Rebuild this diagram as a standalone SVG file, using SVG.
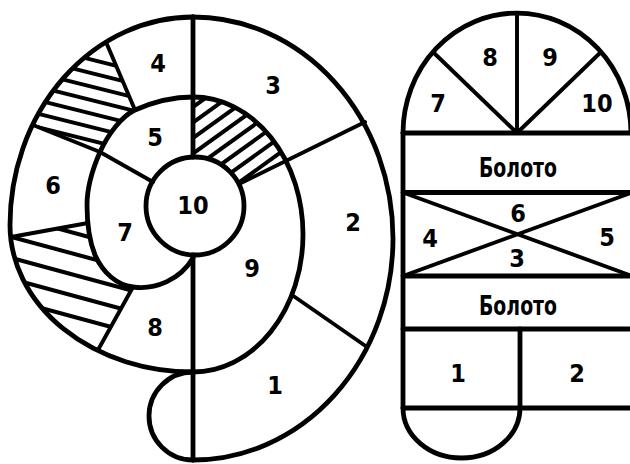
<svg xmlns="http://www.w3.org/2000/svg" width="630" height="464" viewBox="0 0 630 464">
<style>
.o{fill:none;stroke:#000;stroke-width:4.8;stroke-linejoin:round;stroke-linecap:round}
.i{fill:none;stroke:#000;stroke-width:3.9;stroke-linecap:round}
.h{stroke:#000;stroke-width:4}
.t{font-family:"Liberation Sans Narrow","DejaVu Sans Condensed","Liberation Sans",sans-serif;font-weight:bold;font-size:25px;text-anchor:middle;fill:#000}
.w{font-size:27px}
</style>
<defs>
<clipPath id="cpA"><path d="M106,42 A183,208 0 0 0 33,125 L100,152 C108,134 122,116 135,110 Z"/></clipPath>
<clipPath id="cpB"><path d="M11,237 L88,223 C89,240 90,245 95,255 C103,273 117,285 133,287 L98,350 A183,147 0 0 1 11,237 Z"/></clipPath>
<clipPath id="cpC"><path d="M193,97 A110,137.5 0 0 1 285,160 L239,184 A49,49 0 0 0 193,157 Z"/></clipPath>
</defs>
<rect width="630" height="464" fill="#fff"/>

<g id="spiral">
  <g id="hatch-upper-left" clip-path="url(#cpA)">
    <line class="h" x1="20" y1="41.75" x2="150" y2="74.25"/>
    <line class="h" x1="20" y1="55.25" x2="150" y2="87.75"/>
    <line class="h" x1="20" y1="68.75" x2="150" y2="101.25"/>
    <line class="h" x1="20" y1="82.25" x2="150" y2="114.75"/>
    <line class="h" x1="20" y1="95.75" x2="150" y2="128.25"/>
    <line class="h" x1="20" y1="109.25" x2="150" y2="141.75"/>
    <line class="h" x1="20" y1="122.75" x2="150" y2="155.25"/>
  </g>
  <g id="hatch-lower-left" clip-path="url(#cpB)">
    <line class="h" x1="0" y1="212.9" x2="150" y2="253.4"/>
    <line class="h" x1="0" y1="233.9" x2="150" y2="274.4"/>
    <line class="h" x1="0" y1="254.9" x2="150" y2="295.4"/>
    <line class="h" x1="0" y1="275.9" x2="150" y2="316.4"/>
    <line class="h" x1="0" y1="296.9" x2="150" y2="337.4"/>
  </g>
  <g id="hatch-upper-right" clip-path="url(#cpC)">
    <line class="h" x1="185" y1="112.8" x2="300" y2="30"/>
    <line class="h" x1="185" y1="128.3" x2="300" y2="45.5"/>
    <line class="h" x1="185" y1="143.8" x2="300" y2="61"/>
    <line class="h" x1="185" y1="159.3" x2="300" y2="76.5"/>
    <line class="h" x1="185" y1="174.8" x2="300" y2="92"/>
    <line class="h" x1="185" y1="190.3" x2="300" y2="107.5"/>
    <line class="h" x1="185" y1="205.8" x2="300" y2="123"/>
    <line class="h" x1="185" y1="221.3" x2="300" y2="138.5"/>
    <line class="h" x1="185" y1="236.8" x2="300" y2="154"/>
  </g>

  <g id="outline">
    <path class="o" d="M193,17 A200,221.5 0 0 1 193,460"/>
    <path class="o" d="M193,460 A44,44 0 0 1 193,372"/>
    <path class="o" d="M193,17 A183,208 0 0 0 10,225 A183,147 0 0 0 193,372"/>
    <path class="o" d="M193,372 A110,137.5 0 0 0 193,97 C173,97 153,102 135,110 C122,116 108,134 100,152 C93,168 87,185 87,205 C87,225 89,240 95,255 C103,273 117,285 133,287 C155,290 180,280 193,258"/>
    <circle class="o" cx="195" cy="206" r="49"/>
    <path class="o" d="M193,17 V157 M193,255 V460"/>
  </g>
  <g id="dividers">
    <path class="i" d="M106,42 L135,110"/>
    <path class="i" d="M33,125 L100,152"/>
    <path class="i" d="M100,152 L153,182"/>
    <path class="i" d="M11,237 L88,223"/>
    <path class="i" d="M133,287 L98,350"/>
    <path class="i" d="M239,184 L365,122"/>
    <path class="i" d="M292,295 L367,347"/>
  </g>
  <g id="spiral-labels">
    <g id="s4"><text class="t" x="158" y="71.6">4</text></g>
    <g id="s3"><text class="t" x="273" y="93.6">3</text></g>
    <g id="s5"><text class="t" x="155" y="145.6">5</text></g>
    <g id="s6"><text class="t" x="53" y="193.6">6</text></g>
    <g id="s10"><text class="t" x="193" y="213.6">10</text></g>
    <g id="s7"><text class="t" x="125" y="240.6">7</text></g>
    <g id="s2"><text class="t" x="353" y="230.6">2</text></g>
    <g id="s9"><text class="t" x="252" y="276.6">9</text></g>
    <g id="s8"><text class="t" x="155" y="335.6">8</text></g>
    <g id="s1"><text class="t" x="275" y="393.6">1</text></g>
  </g>
</g>

<g id="board">
  <g id="board-lines">
    <path class="o" d="M403,133 A114,120 0 0 1 631,133"/>
    <path class="o" d="M403,133 V408"/>
    <path class="o" d="M403,133 H634 M403,192.5 H634 M403,276 H634 M403,329 H634 M403,408 H634"/>
    <path class="i" d="M517,133 L433,52 M517,133 V14 M517,133 L601,52"/>
    <path class="i" d="M403,192.5 L632,276 M403,276 L632,192.5"/>
    <path class="o" d="M520,329 V408"/>
    <path class="o" d="M403,408 A58.5,50 0 0 0 520,408"/>
  </g>
  <g id="b7"><text class="t" x="438" y="111.6">7</text></g>
  <g id="b8"><text class="t" x="490" y="65.6">8</text></g>
  <g id="b9"><text class="t" x="550" y="65.6">9</text></g>
  <g id="b10"><text class="t" x="597" y="111.6">10</text></g>
  <g id="swamp1"><text class="t w" x="518" y="176.5" textLength="78" lengthAdjust="spacingAndGlyphs">Болото</text></g>
  <g id="b6"><text class="t" x="518" y="221.6">6</text></g>
  <g id="b4"><text class="t" x="430" y="246.6">4</text></g>
  <g id="b5"><text class="t" x="607" y="245.6">5</text></g>
  <g id="b3"><text class="t" x="517" y="266.6">3</text></g>
  <g id="swamp2"><text class="t w" x="518" y="314.5" textLength="78" lengthAdjust="spacingAndGlyphs">Болото</text></g>
  <g id="b1"><text class="t" x="458" y="381.6">1</text></g>
  <g id="b2"><text class="t" x="577" y="381.6">2</text></g>
</g>
</svg>
